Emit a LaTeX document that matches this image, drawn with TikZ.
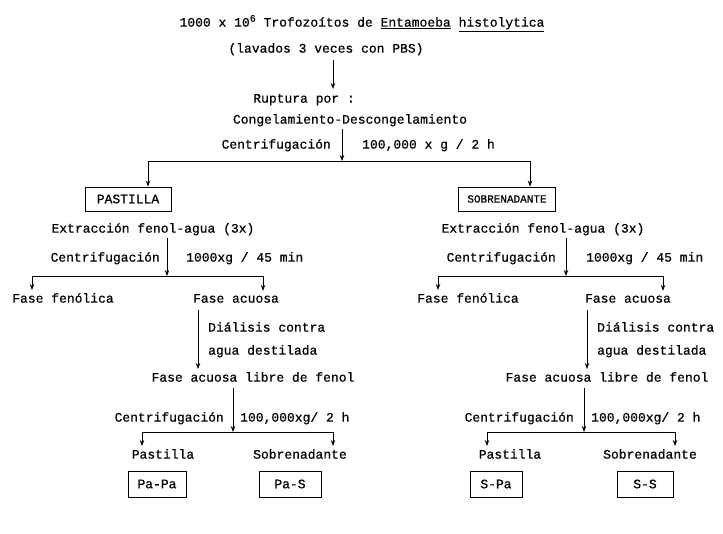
\documentclass[tikz,border=0pt]{standalone}
\usepackage{fontspec}
\setmainfont{Liberation Mono}[FakeBold=0.6]
\usetikzlibrary{arrows.meta}
\newcommand\fs{\fontsize{13}{15}\selectfont}
\newcommand\fsb{\fontsize{11}{13}\selectfont}
\begin{document}
\begin{tikzpicture}[x=1pt,y=-1pt,
  txt/.style={inner sep=0pt,font=\fs},
  box/.style={draw,line width=0.9pt,minimum height=24pt,inner sep=0pt,font=\fs},
  arr/.style={line width=0.9pt,-{Stealth[length=6pt,width=4.5pt]}},
  ln/.style={line width=0.9pt}]
\useasboundingbox (0,0) rectangle (723,534);
% ---------- top ----------
\node[txt,anchor=mid] (t1) at (362,24) {1000 x 10\raisebox{5pt}{\fontsize{10}{12}\selectfont 6} Trofozoítos de \underline{Entamoeba} \underline{histolytica}};
\node[txt,anchor=mid] (t2) at (326,50) {(lavados 3 veces con PBS)};
\node[txt,anchor=mid] (t3) at (304,100) {Ruptura por :};
\node[txt,anchor=mid] (t4) at (350,121) {Congelamiento-Descongelamiento};
\node[txt,anchor=mid east] (c1) at (331,146) {Centrifugación};
\node[txt,anchor=mid west] (c1r) at (362,146) {100,000 x g / 2 h};
\coordinate (a1s) at (333,60);
\coordinate (a1e) at (333,89);
\draw[arr] (a1s) -- (a1e);
\coordinate (v1s) at (342,129);
\coordinate (j1) at (342,161);
\draw[arr] (v1s) -- (j1);
\node[box,minimum width=86pt] (bP) at (128,199) {PASTILLA};
\node[box,minimum width=97pt,font=\fsb] (bS) at (507,199) {SOBRENADANTE};
\coordinate (hL) at (148,161);
\coordinate (hR) at (530,161);
\draw[arr] (j1) -- (hL) -- (hL |- bP.north);
\draw[arr] (j1) -- (hR) -- (hR |- bS.north);
% ---------- left column ----------
\node[txt,anchor=mid] (e1) at (153,230) {Extracción fenol-agua (3x)};
\node[txt,anchor=mid east] (c2) at (160,259) {Centrifugación};
\node[txt,anchor=mid west] (c2r) at (186,259) {1000xg / 45 min};
\coordinate (v2s) at (167,238);
\coordinate (j2) at (167,276);
\draw[arr] (v2s) -- (j2);
\node[txt,anchor=mid] (f1) at (63,300) {Fase fenólica};
\node[txt,anchor=mid] (f2) at (236,300) {Fase acuosa};
\coordinate (hL2) at (32,276);
\coordinate (hR2) at (263,276);
\draw[arr] (j2) -- (hL2) -- ([yshift=3pt]hL2 |- f1.north);
\draw[arr] (j2) -- (hR2) -- ([yshift=3pt]hR2 |- f2.north);
\node[txt,anchor=mid west] (d1) at (208,329) {Diálisis contra};
\node[txt,anchor=mid west] (d2) at (208,352) {agua destilada};
\node[txt,anchor=mid] (l1) at (253,379) {Fase acuosa libre de fenol};
\coordinate (v3s) at (198,310);
\draw[arr] (v3s) -- ([yshift=3pt]v3s |- l1.north);
\node[txt,anchor=mid east] (c3) at (224,419) {Centrifugación};
\node[txt,anchor=mid west] (c3r) at (240,419) {100,000xg/ 2 h};
\coordinate (v4s) at (233,388);
\coordinate (j3) at (233,432);
\draw[arr] (v4s) -- (j3);
\node[txt,anchor=mid] (p1) at (163,456) {Pastilla};
\node[txt,anchor=mid] (s1) at (300,456) {Sobrenadante};
\coordinate (hL3) at (142,432);
\coordinate (hR3) at (333,432);
\draw[arr] (j3) -- (hL3) -- ([yshift=3pt]hL3 |- p1.north);
\draw[arr] (j3) -- (hR3) -- ([yshift=3pt]hR3 |- s1.north);
\node[box,minimum width=58pt,minimum height=26pt] (bPaPa) at (157,484) {Pa-Pa};
\node[box,minimum width=62pt,minimum height=26pt] (bPaS) at (290,484) {Pa-S};
% ---------- right column ----------
\node[txt,anchor=mid] (e2) at (543,230) {Extracción fenol-agua (3x)};
\node[txt,anchor=mid east] (c4) at (556,259) {Centrifugación};
\node[txt,anchor=mid west] (c4r) at (586,259) {1000xg / 45 min};
\coordinate (v5s) at (566,238);
\coordinate (j4) at (566,276);
\draw[arr] (v5s) -- (j4);
\node[txt,anchor=mid] (f3) at (468,300) {Fase fenólica};
\node[txt,anchor=mid] (f4) at (628,300) {Fase acuosa};
\coordinate (hL4) at (438,276);
\coordinate (hR4) at (663,276);
\draw[arr] (j4) -- (hL4) -- ([yshift=3pt]hL4 |- f3.north);
\draw[arr] (j4) -- (hR4) -- ([yshift=3pt]hR4 |- f4.north);
\node[txt,anchor=mid west] (d3) at (597,329) {Diálisis contra};
\node[txt,anchor=mid west] (d4) at (597,352) {agua destilada};
\node[txt,anchor=mid] (l2) at (607,379) {Fase acuosa libre de fenol};
\coordinate (v6s) at (587,310);
\draw[arr] (v6s) -- ([yshift=3pt]v6s |- l2.north);
\node[txt,anchor=mid east] (c5) at (574,419) {Centrifugación};
\node[txt,anchor=mid west] (c5r) at (591,419) {100,000xg/ 2 h};
\coordinate (v7s) at (584,388);
\coordinate (j5) at (584,432);
\draw[arr] (v7s) -- (j5);
\node[txt,anchor=mid] (p2) at (510,456) {Pastilla};
\node[txt,anchor=mid] (s2) at (650,456) {Sobrenadante};
\coordinate (hL5) at (487,432);
\coordinate (hR5) at (675,432);
\draw[arr] (j5) -- (hL5) -- ([yshift=3pt]hL5 |- p2.north);
\draw[arr] (j5) -- (hR5) -- ([yshift=3pt]hR5 |- s2.north);
\node[box,minimum width=52pt,minimum height=26pt] (bSPa) at (496,484) {S-Pa};
\node[box,minimum width=56pt,minimum height=26pt] (bSS) at (645,484) {S-S};
\end{tikzpicture}
\end{document}
